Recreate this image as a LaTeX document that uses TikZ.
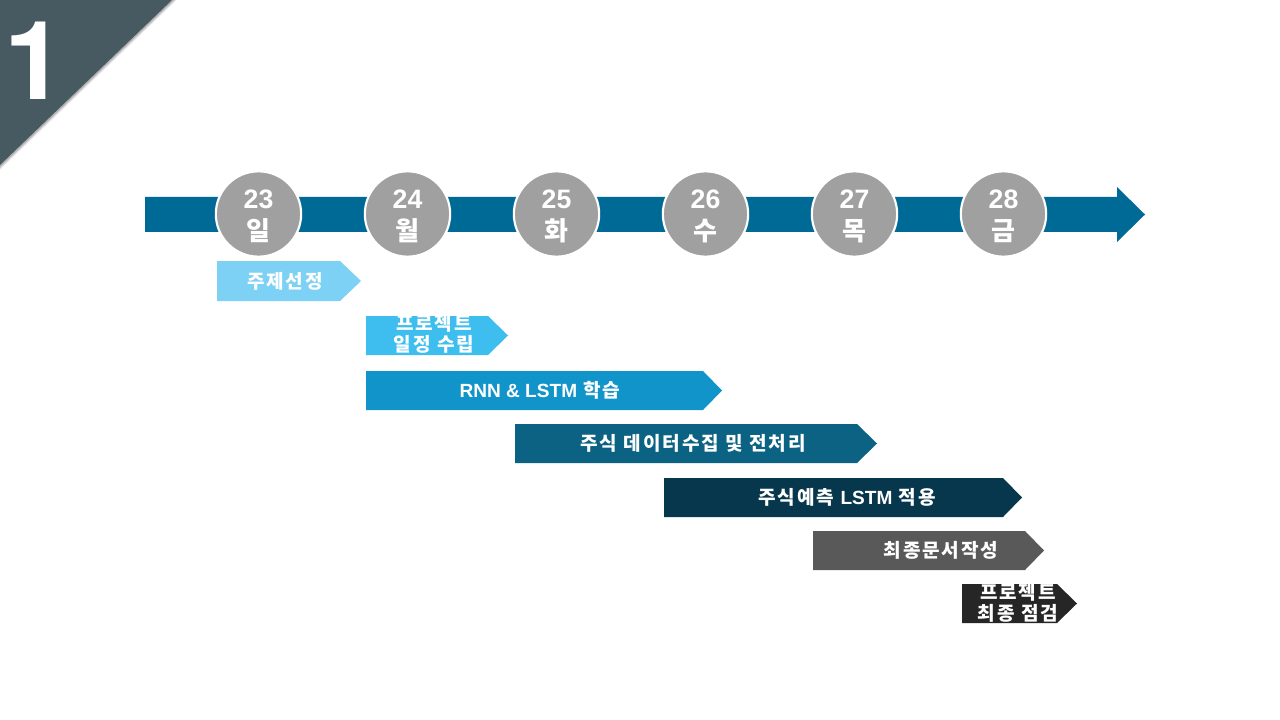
\documentclass[tikz,border=0pt]{standalone}
\usepackage{fontspec}
\setmainfont{Liberation Sans}
\newfontfamily\kr{Noto Sans CJK KR}
\newfontfamily\krsp{Noto Sans CJK KR}[LetterSpace=10]
\newfontfamily\onefont{TeX Gyre Heros}
\definecolor{corner}{HTML}{485A61}
\definecolor{tline}{HTML}{006A97}
\definecolor{circ}{HTML}{A0A0A0}
\definecolor{cA}{HTML}{7DD1F4}
\definecolor{cB}{HTML}{3DBEEE}
\definecolor{cC}{HTML}{1094C9}
\definecolor{cD}{HTML}{0B6282}
\definecolor{cE}{HTML}{07374C}
\definecolor{cF}{HTML}{595959}
\definecolor{cG}{HTML}{262626}
\newcommand\lat[1]{{\rmfamily\bfseries #1}}
\tikzset{
  daycirc/.style={circle, fill=circ, draw=white, line width=1.6pt, minimum size=64pt, inner sep=0pt},
  daynum/.style={text=white, font=\bfseries\fontsize{20}{20}\selectfont, inner sep=0pt},
  dayname/.style={text=white, font=\kr\bfseries\fontsize{19.5}{19.5}\selectfont, inner sep=0pt},
  bartext/.style={text=white, font=\krsp\bfseries\fontsize{14.3}{16}\selectfont, align=center, inner sep=0pt},
}
% chevron: #1 color, #2 x-left, #3 x-slant, #4 x-tip, #5 y-top, #6 y-bottom
\newcommand\chevbar[6]{\fill[#1] (#2,#5) -- (#3,#5) -- (#4,{(#5+#6)/2}) -- (#3,#6) -- (#2,#6) -- cycle;}
\begin{document}
\begin{tikzpicture}[x=0.75pt,y=-0.75pt]
\useasboundingbox (0,0) rectangle (1280,720);
\fill[white] (0,0) rectangle (1280,720);
% corner triangle with soft shadow
\foreach \o/\op in {5/0.05,4/0.07,3/0.09,2/0.12}{
  \fill[black,opacity=\op] (0,0) -- (172+\o,0) -- (0,165+\o) -- cycle;}
\fill[corner] (0,0) -- (172,0) -- (0,165) -- cycle;
\node[text=white, font=\onefont\bfseries\fontsize{82}{82}\selectfont, inner sep=0pt, anchor=base] (one) at (35,100) {1};
% timeline arrow
\fill[tline] (145,197) -- (1117,197) -- (1117,187) -- (1145,214.5) -- (1117,242) -- (1117,232) -- (145,232) -- cycle;
% day circles
\foreach \i/\x/\n/\w in {1/258.5/23/일,2/407.5/24/월,3/556.5/25/화,4/705.5/26/수,5/854.5/27/목,6/1003.5/28/금}{
  \node[daycirc] (c\i) at (\x,214) {};
  \node[daynum] (n\i) at (\x,199) {\n};
  \node[dayname] (w\i) at (\x,231) {\w};
}
% task bars
\chevbar{cA}{217}{340}{361}{261}{301}
\node[bartext] (t1) at (285,281) {주제선정};
\chevbar{cB}{366}{488}{508}{316}{355}
\node[bartext] (t2) at (434,334) {프로젝트\\일정 수립};
\chevbar{cC}{366}{703}{722}{371}{410}
\node[bartext] (t3) at (540,390) {\lat{RNN \& LSTM} 학습};
\chevbar{cD}{515}{857}{877}{424}{463}
\node[bartext] (t4) at (693,443) {주식 데이터수집 및 전처리};
\chevbar{cE}{664}{1003}{1022}{478}{517}
\node[bartext] (t5) at (847,497) {주식예측 \lat{LSTM} 적용};
\chevbar{cF}{813}{1025}{1044}{531}{570}
\node[bartext] (t6) at (941,550) {최종문서작성};
\chevbar{cG}{962}{1057}{1077}{584}{623}
\node[bartext] (t7) at (1018,603) {프로젝트\\최종 점검};
\end{tikzpicture}
\end{document}
